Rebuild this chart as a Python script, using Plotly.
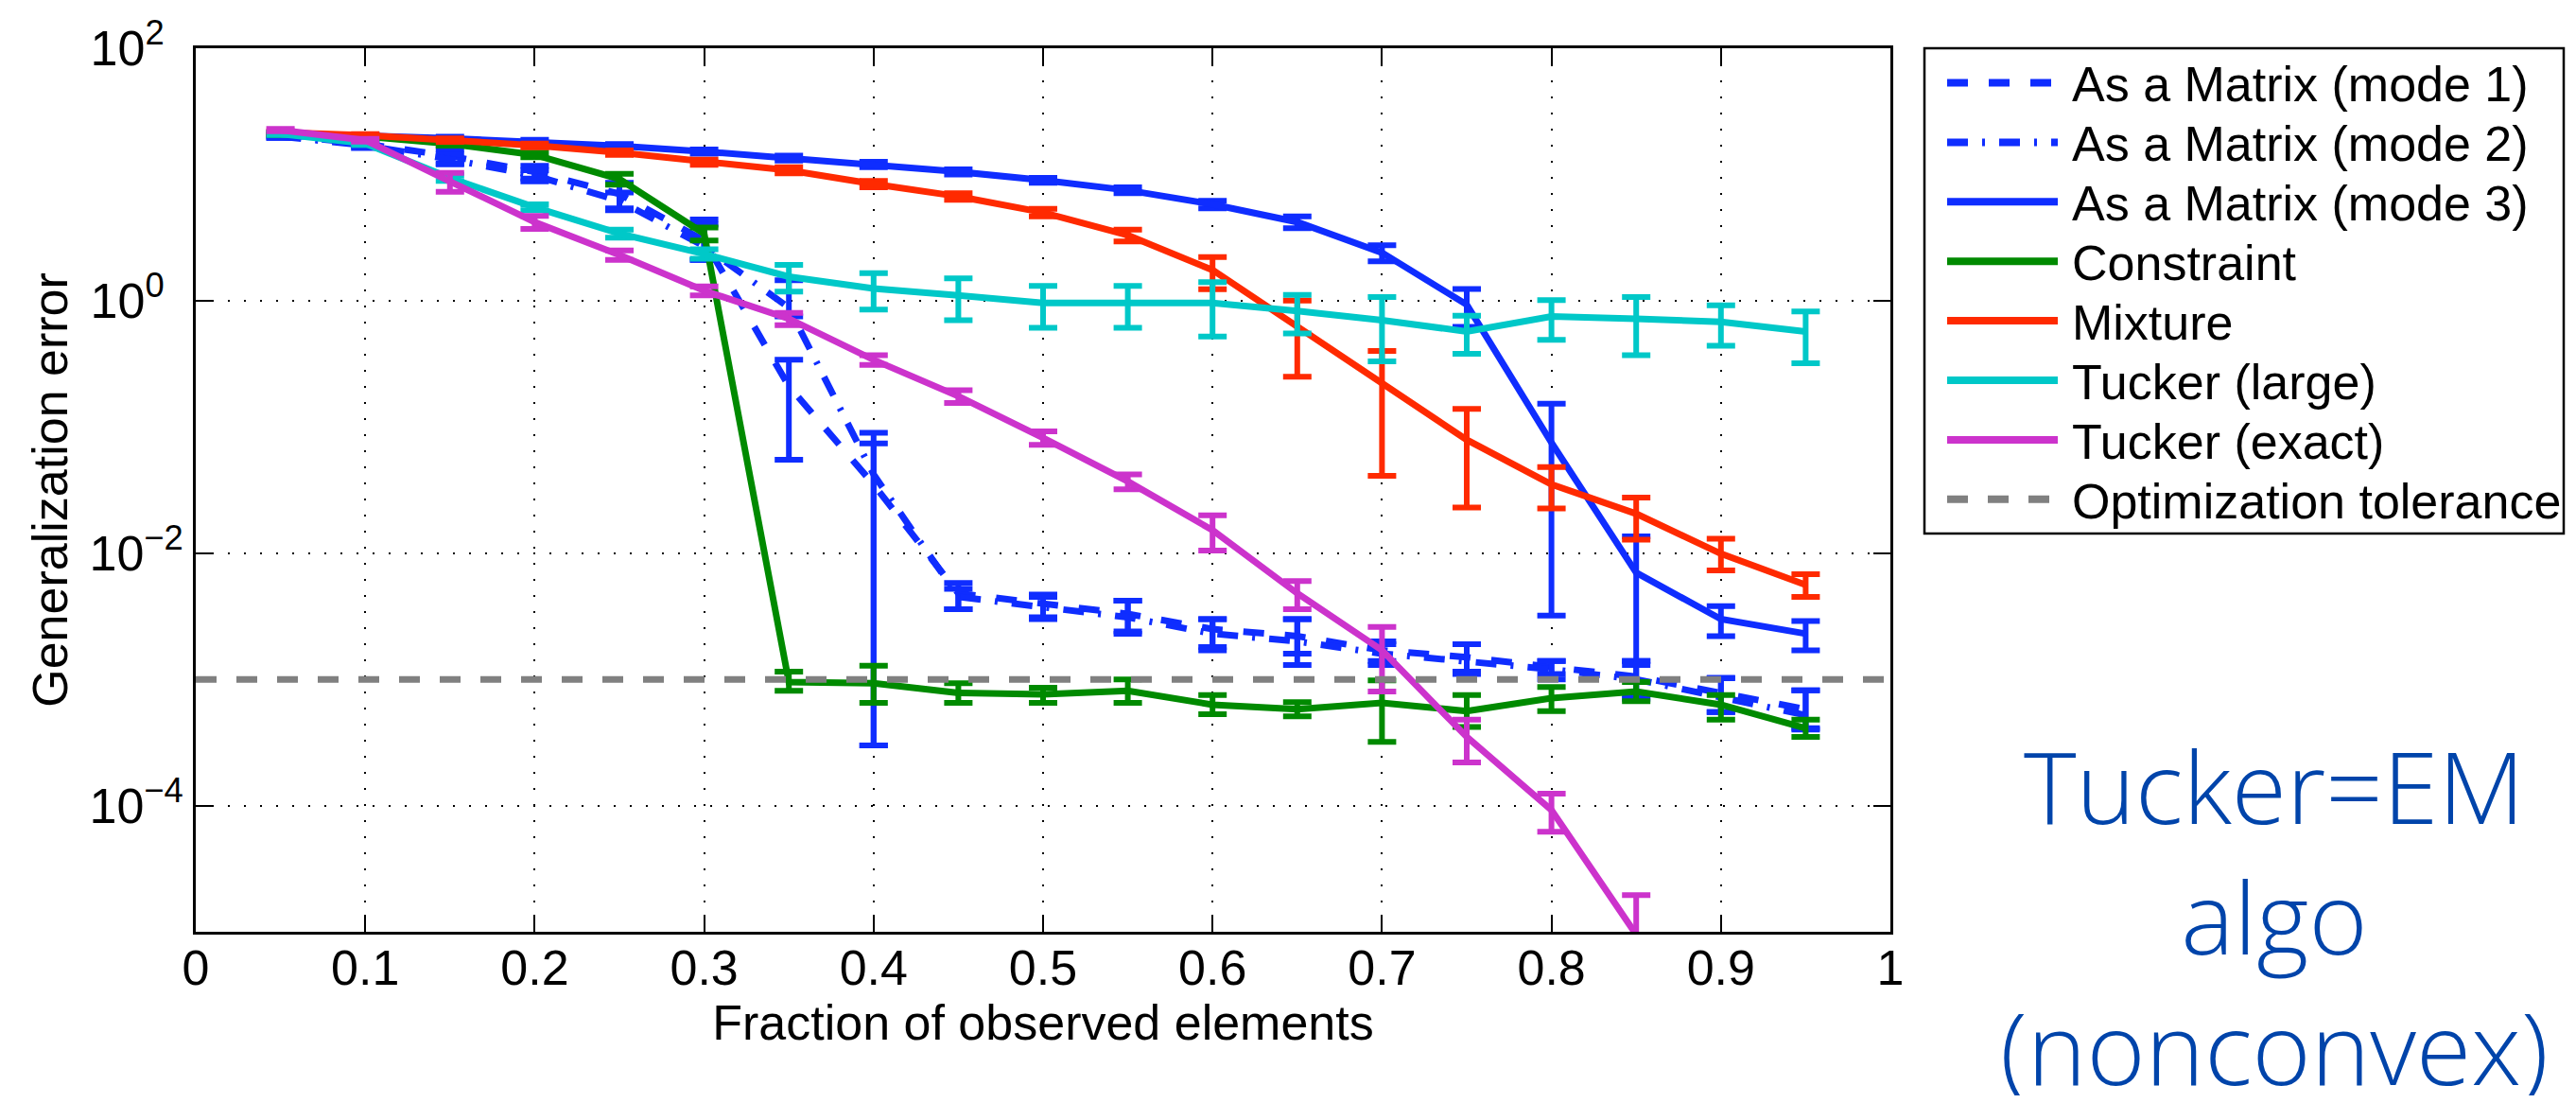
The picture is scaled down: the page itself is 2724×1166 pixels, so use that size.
import plotly.graph_objects as go

# ---------------- data ----------------
frac = [0.05, 0.10, 0.15, 0.20, 0.25, 0.30, 0.35, 0.40, 0.45, 0.50,
        0.55, 0.60, 0.65, 0.70, 0.75, 0.80, 0.85, 0.90, 0.95]

mode1_y = [20.5, 17.5, 14.0, 10.5, 7.0, 3.0, 0.21, 0.035, 0.0048, 0.0040,
           0.0033, 0.0025, 0.0022, 0.0017, 0.0015, 0.00125, 0.00105, 0.00078, 0.00058]
mode1_up = [0.5, 0.8, 1.8, 1.2, 1.6, 1.4, 0.13, 0.039, 0.0010, 0.0007,
            0.0009, 0.0005, 0.0008, 0.0003, 0.0004, 0.00015, 0.00035, 0.00025, 0.00024]
mode1_dn = [0.5, 0.8, 1.8, 1.2, 1.6, 0.9, 0.155, 0.0347, 0.0012, 0.0009,
            0.0009, 0.0007, 0.0006, 0.0003, 0.00035, 0.00015, 0.0003, 0.00023, 0.00017]

mode2_y = [20.0, 17.0, 13.2, 9.8, 6.2, 2.7, 0.88, 0.042, 0.0045, 0.0037,
           0.0031, 0.0023, 0.0020, 0.0016, 0.0014, 0.0012, 0.00100, 0.00072, 0.00052]
mode2_up = [0.5, 0.8, 1.2, 1.0, 1.0, 1.3, 0.57, 0.048, 0.0007, 0.0008,
            0.0011, 0.0007, 0.0010, 0.0003, 0.0005, 0.0002, 0.0004, 0.0003, 0.0003]
mode2_dn = [0.5, 0.8, 1.2, 1.0, 1.0, 0.6, 0.13, 0.0417, 0.0009, 0.0007,
            0.0008, 0.0006, 0.0007, 0.0003, 0.0003, 0.0002, 0.0003, 0.00017, 0.00012]

mode3_y = [20.0, 20.3, 19.3, 18.2, 16.8, 15.2, 13.5, 12.0, 10.5, 9.0,
           7.5, 5.8, 4.2, 2.4, 0.93, 0.075, 0.0070, 0.0030, 0.0023]
mode3_up = [0.5, 0.5, 0.6, 0.6, 0.6, 0.6, 0.6, 0.6, 0.5, 0.4,
            0.4, 0.4, 0.45, 0.35, 0.31, 0.078, 0.0066, 0.0008, 0.0006]
mode3_dn = [0.5, 0.5, 0.6, 0.6, 0.6, 0.6, 0.6, 0.6, 0.5, 0.4,
            0.4, 0.4, 0.45, 0.35, 0.31, 0.0718, 0.0057, 0.0008, 0.0006]

constraint_y = [21.0, 20.0, 17.5, 14.3, 9.2, 3.4, 9.5e-4, 9.3e-4, 7.8e-4, 7.6e-4,
                8.1e-4, 6.3e-4, 5.8e-4, 6.5e-4, 5.6e-4, 7.1e-4, 8.0e-4, 6.3e-4, 4.1e-4]
constraint_up = [0.5, 0.5, 0.6, 0.6, 0.9, 0.4, 2.0e-4, 3.5e-4, 1.5e-4, 1.0e-4,
                 1.9e-4, 1.2e-4, 0.8e-4, 3.3e-4, 1.9e-4, 1.6e-4, 1.5e-4, 1.2e-4, 0.7e-4]
constraint_dn = [0.5, 0.5, 0.6, 0.6, 0.9, 0.4, 1.4e-4, 2.8e-4, 1.3e-4, 1.1e-4,
                 1.6e-4, 1.0e-4, 0.7e-4, 3.3e-4, 1.4e-4, 1.5e-4, 1.3e-4, 1.5e-4, 0.6e-4]

mixture_y = [21.5, 20.4, 18.7, 17.0, 14.9, 12.5, 10.8, 8.4, 6.7, 5.0,
             3.3, 1.75, 0.62, 0.22, 0.079, 0.035, 0.0205, 0.0099, 0.0056]
mixture_up = [0.5, 0.5, 0.6, 0.6, 0.6, 0.6, 0.6, 0.5, 0.4, 0.35,
              0.35, 0.47, 0.38, 0.18, 0.06, 0.013, 0.007, 0.0031, 0.0012]
mixture_dn = [0.5, 0.5, 0.6, 0.6, 0.6, 0.6, 0.6, 0.5, 0.4, 0.35,
              0.35, 0.52, 0.37, 0.179, 0.056, 0.0124, 0.0077, 0.0026, 0.0011]

tucker_large_y = [21.0, 17.6, 9.4, 5.5, 3.4, 2.35, 1.55, 1.25, 1.1, 0.96,
                  0.96, 0.96, 0.83, 0.70, 0.57, 0.75, 0.72, 0.68, 0.57]
tucker_large_err = [0.5, 0.5, 0.5, 0.3, 0.25, 0.2, 0.37, 0.40, 0.40, 0.35,
                    0.35, 0.44, 0.28, 0.37, 0.19, 0.26, 0.35, 0.24, 0.25]

tucker_exact_y = [22.5, 18.7, 8.8, 4.2, 2.3, 1.2, 0.72, 0.34, 0.175, 0.082,
                  0.037, 0.0152, 0.0048, 0.0017, 3.5e-4, 9.2e-5, 9.5e-6, None, None]
tucker_exact_up = [0.5, 0.5, 1.5, 0.5, 0.2, 0.1, 0.08, 0.03, 0.02, 0.01,
                   0.005, 0.0047, 0.0012, 0.0009, 1.3e-4, 3.2e-5, 1.0e-5, None, None]
tucker_exact_dn = [0.5, 0.5, 1.5, 0.5, 0.2, 0.1, 0.08, 0.03, 0.02, 0.01,
                   0.005, 0.0047, 0.0012, 0.0009, 1.3e-4, 3.0e-5, 5.0e-6, None, None]

tol_x = [0.0, 1.0]
tol_y = [1e-3, 1e-3]

x_ticks = [0, 0.1, 0.2, 0.3, 0.4, 0.5, 0.6, 0.7, 0.8, 0.9, 1]
x_ticklabels = ["0", "0.1", "0.2", "0.3", "0.4", "0.5", "0.6", "0.7", "0.8", "0.9", "1"]
y_ticks = [1e-4, 1e-2, 1, 100]
y_ticklabels = ["10<sup>−4</sup>", "10<sup>−2</sup>",
                "10<sup>0\u00a0\u00a0</sup>", "10<sup>2\u00a0\u00a0</sup>"]

# ---------------- styling ----------------
BLUE = "#0F2DFF"
GREEN = "#008A00"
RED = "#FF2A00"
CYAN = "#00C8C8"
MAGENTA = "#CC33CC"
GRAY = "#808080"
FONT = "Liberation Sans, Arial, Helvetica, sans-serif"
LW = 7

series = [
    ("As a Matrix (mode 1)", mode1_y, mode1_up, mode1_dn, BLUE, "22px,22px"),
    ("As a Matrix (mode 2)", mode2_y, mode2_up, mode2_dn, BLUE, "22px,15px,3px,15px"),
    ("As a Matrix (mode 3)", mode3_y, mode3_up, mode3_dn, BLUE, "solid"),
    ("Constraint", constraint_y, constraint_up, constraint_dn, GREEN, "solid"),
    ("Mixture", mixture_y, mixture_up, mixture_dn, RED, "solid"),
    ("Tucker (large)", tucker_large_y, tucker_large_err, tucker_large_err, CYAN, "solid"),
    ("Tucker (exact)", tucker_exact_y, tucker_exact_up, tucker_exact_dn, MAGENTA, "solid"),
]
tol_style = ("Optimization tolerance", GRAY, "22px,21px")

fig = go.Figure()
for name, yv, up, dn, col, dash in series:
    fig.add_trace(go.Scatter(
        x=frac, y=yv, name=name, mode="lines",
        line=dict(color=col, width=LW, dash=dash),
        error_y=dict(type="data", symmetric=False, array=up, arrayminus=dn,
                     color=col, thickness=6, width=15),
    ))

fig.add_trace(go.Scatter(
    x=tol_x, y=tol_y, name=tol_style[0], mode="lines",
    line=dict(color=tol_style[1], width=LW, dash=tol_style[2]),
))

# The page body has an 8px margin, so the figure is made 16px smaller and
# shifted so that the plot area lands where it is in the reference page.
OFF = 8
W, H = 2724 - 2 * OFF, 1166 - 2 * OFF
PW, PH = 1792, 934
L, T = 207 - OFF, 51 - OFF
R, B = W - L - PW, H - T - PH


def px_x(page_px):
    return (page_px - OFF - L) / PW


def px_y(page_py):
    return (T + PH + OFF - page_py) / PH


# ---------------- legend (drawn as a box with sample lines and labels) ----------------
shapes = [dict(type="rect", xref="paper", yref="paper",
               x0=px_x(2035), x1=px_x(2711), y0=px_y(564), y1=px_y(51),
               line=dict(color="black", width=2.5), fillcolor="white", layer="above")]
annotations = []
legend_items = [(s[0], s[4], s[5]) for s in series] + [tol_style]
for i, (name, col, dash) in enumerate(legend_items):
    yc = 87.5 + i * 62.9
    shapes.append(dict(type="line", xref="paper", yref="paper",
                       x0=px_x(2059), x1=px_x(2176), y0=px_y(yc), y1=px_y(yc),
                       line=dict(color=col, width=8, dash=dash), layer="above"))
    annotations.append(dict(xref="paper", yref="paper", x=px_x(2189), y=px_y(yc + 2),
                            xanchor="left", yanchor="middle", showarrow=False,
                            text=name, font=dict(family=FONT, size=52, color="black")))

annotations.append(dict(
    xref="paper", yref="paper", x=px_x(2405), y=px_y(968),
    xanchor="center", yanchor="middle", showarrow=False, align="center",
    text="Tucker=EM<br>algo<br>(nonconvex)",
    font=dict(family="Open Sans, Lato, sans-serif", size=106,
              color="#0044AA", weight=300),
))

fig.update_layout(
    width=W, height=H,
    margin=dict(l=L, r=R, t=T, b=B, pad=0),
    paper_bgcolor="white", plot_bgcolor="white",
    font=dict(family=FONT, size=52, color="black"),
    showlegend=False,
    shapes=shapes,
    annotations=annotations,
    xaxis=dict(
        range=[0, 1], tickvals=x_ticks, ticktext=x_ticklabels,
        ticks="inside", ticklen=18, tickwidth=2, tickcolor="black",
        showline=True, linecolor="black", linewidth=2.5, mirror="ticks",
        showgrid=True, gridcolor="black", gridwidth=2, griddash="2px,15px",
        zeroline=False, automargin=False, ticklabelstandoff=-9,
        tickfont=dict(family=FONT, size=52, color="black"),
        title=dict(text="Fraction of observed elements", standoff=2,
                   font=dict(family=FONT, size=52, color="black")),
    ),
    yaxis=dict(
        type="log", range=[-5, 2], tickvals=y_ticks, ticktext=y_ticklabels,
        ticks="inside", ticklen=18, tickwidth=2, tickcolor="black",
        showline=True, linecolor="black", linewidth=2.5, mirror="ticks",
        showgrid=True, gridcolor="black", gridwidth=2, griddash="2px,15px",
        zeroline=False, automargin=False,
        tickfont=dict(family=FONT, size=52, color="black"),
        title=dict(text="Generalization error", standoff=7,
                   font=dict(family=FONT, size=52, color="black")),
    ),
)

fig.write_html("out.html")
